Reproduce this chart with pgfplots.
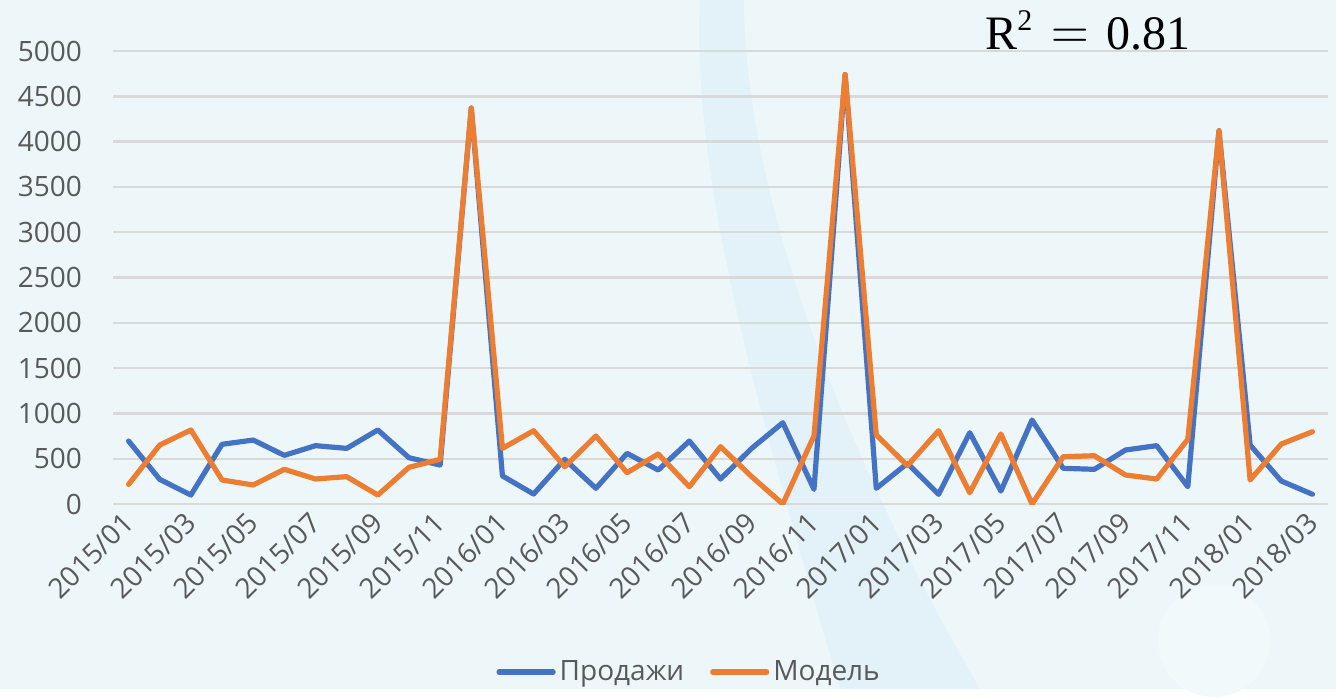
\documentclass[border=0pt]{standalone}
\usepackage{pgfplots}
\pgfplotsset{compat=1.18}
\usepackage{fontspec}
\setmainfont{Open Sans}
\newfontfamily\cambria{Liberation Serif}
\definecolor{bg}{HTML}{EDF7FA}
\definecolor{bgdark}{HTML}{E3F2F8}
\definecolor{grd}{HTML}{D9D9D9}
\definecolor{txt}{HTML}{595959}
\definecolor{sblue}{HTML}{4472C4}
\definecolor{sorange}{HTML}{ED7D31}
\begin{document}
\begin{tikzpicture}
\fill[bg] (0pt,0pt) rectangle (668pt,344.5pt);
\fill[bgdark] (372pt,344.5pt) .. controls (372pt,250pt) and (420pt,120pt) .. (490pt,0pt) -- (420pt,0pt) .. controls (385pt,120pt) and (345pt,250pt) .. (350pt,344.5pt) -- cycle;
\fill[white!22!bg] (607pt,24pt) circle (28pt);
\useasboundingbox (0pt,0pt) rectangle (668pt,344.5pt);
\begin{axis}[
  at={(56.5pt,92.5pt)}, anchor=south west,
  width=607.5pt, height=226.5pt, scale only axis,
  xmin=-0.5, xmax=38.5, ymin=0, ymax=5000,
  axis line style={draw=none},
  major tick length=0pt,
  ytick={0,500,...,5000},
  ymajorgrids, grid style={grd, line width=1.2pt},
  xtick={0,2,...,38},
  xticklabels={2015/01,2015/03,2015/05,2015/07,2015/09,2015/11,2016/01,2016/03,2016/05,2016/07,2016/09,2016/11,2017/01,2017/03,2017/05,2017/07,2017/09,2017/11,2018/01,2018/03},
  xticklabel style={rotate=45, anchor=east, xshift=3.5pt, font=\fontsize{14}{16}\selectfont, text=txt},
  yticklabel style={anchor=east, font=\fontsize{14}{16}\selectfont, text=txt},
  xticklabel shift=7pt,
  yticklabel shift=12pt,
  scaled y ticks=false,
  /pgf/number format/assume math mode=true,
  yticklabel={\pgfmathprintnumber[fixed,1000 sep={}]{\tick}},
  legend columns=2,
  legend style={at={(0.475,-0.371)}, anchor=center, draw=none, fill=none,
    font=\fontsize{14}{16}\selectfont, text=txt,
    /tikz/every even column/.append style={column sep=11pt}},
  legend image code/.code={\draw[#1, line cap=round] (0pt,0pt) -- (27pt,0pt);},
  every axis plot/.append style={line width=2.6pt, line join=round, line cap=round},
]
\addplot[sblue] coordinates {
(0,695) (1,272) (2,99) (3,659) (4,706) (5,537) (6,644) (7,614) (8,817) (9,511)
(10,430) (11,4370) (12,310) (13,110) (14,493) (15,173) (16,559) (17,375) (18,695) (19,276)
(20,614) (21,897) (22,162) (23,4740) (24,173) (25,449) (26,107) (27,787) (28,143) (29,927)
(30,394) (31,383) (32,596) (33,644) (34,191) (35,4120) (36,651) (37,254) (38,107)};
\addlegendentry{Продажи}
\addplot[sorange] coordinates {
(0,217) (1,651) (2,817) (3,265) (4,210) (5,383) (6,276) (7,302) (8,99) (9,405)
(10,493) (11,4370) (12,614) (13,809) (14,412) (15,751) (16,346) (17,552) (18,191) (19,633)
(20,302) (21,0) (22,751) (23,4740) (24,762) (25,423) (26,809) (27,125) (28,773) (29,0)
(30,522) (31,533) (32,320) (33,276) (34,714) (35,4120) (36,265) (37,662) (38,798)};
\addlegendentry{Модель}
\end{axis}
\node[anchor=base west, inner sep=0pt, font=\fontsize{24}{26}\selectfont\cambria] at (492.5pt,319.5pt) {R\raisebox{9.5pt}{\fontsize{15}{15}\selectfont 2}\hspace{0.4em}\scalebox{1.05}[1.15]{$=$}\hspace{0.35em}0.81};
\end{tikzpicture}
\end{document}
